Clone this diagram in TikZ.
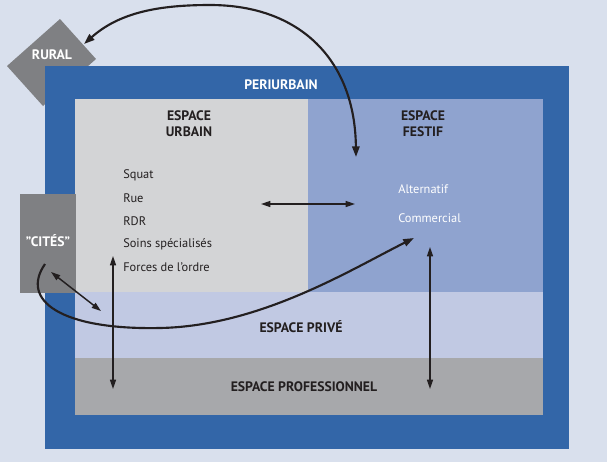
\documentclass[tikz,border=0pt]{standalone}
\usepackage{fontspec}
\setmainfont{PT Sans}
\usetikzlibrary{arrows.meta}
\definecolor{fond}{HTML}{D9E0ED}
\definecolor{bleu}{HTML}{3366A8}
\definecolor{urbain}{HTML}{D3D4D6}
\definecolor{festif}{HTML}{8FA3CF}
\definecolor{prive}{HTML}{C1C9E3}
\definecolor{pro}{HTML}{A7A8AB}
\definecolor{gris}{HTML}{7F8083}
\definecolor{encre}{HTML}{231F20}
\begin{document}
\begin{tikzpicture}[x=0.75pt,y=-0.75pt,
  titre/.style={font=\bfseries\fontsize{10.3}{12}\selectfont,text=encre,align=center,inner sep=0pt},
  blanc/.style={titre,text=white},
  liste/.style={font=\fontsize{9.3}{11}\selectfont,text=encre,anchor=west,inner sep=0pt},
  liste2/.style={liste,text=white},
  fl/.style={draw=encre,line width=1.1pt,{Triangle[length=7pt,width=4.5pt]}-{Triangle[length=7pt,width=4.5pt]}},
  courbe/.style={draw=encre,line width=1.6pt}]
\fill [fond] (0,0) rectangle (607,462);
\useasboundingbox (0,0) rectangle (607,462);
% zones
\fill [gris] (7,66)-- (60,19)-- (96,59)-- (43,106)-- cycle;
\fill [bleu] (45,66) rectangle (569,449);
\fill [urbain] (75,99) rectangle (308,292);
\fill [festif] (308,99) rectangle (543,292);
\fill [prive] (75,292) rectangle (543,358);
\fill [pro] (75,358) rectangle (543,415);
\fill [gris] (20,194) rectangle (76,293);
% textes
\node [blanc] (rural) at (52,55) {RURAL};
\node [blanc] (peri) at (281,85) {PERIURBAIN};
\node [titre] (urb) at (189,124) {ESPACE\\URBAIN};
\node [titre] (fest) at (423,124) {ESPACE\\FESTIF};
\node [blanc] (cites) at (48,241) {"CITÉS"};
\node [liste] (squat) at (123,175) {Squat};
\node [liste] (rue) at (123,198) {Rue};
\node [liste] (rdr) at (123,221) {RDR};
\node [liste] (soins) at (123,244) {Soins spécialisés};
\node [liste] (ordre) at (123,267) {Forces de l’ordre};
\node [liste2] (alt) at (398,189) {Alternatif};
\node [liste2] (com) at (398,218) {Commercial};
\node [titre] (prv) at (301,327) {ESPACE PRIVÉ};
\node [titre] (prof) at (304,387) {ESPACE PROFESSIONNEL};
% bouts des fleches
\coordinate (r1) at (84,44);
\coordinate (f1) at (356,157);
\coordinate (u1) at (261,204);
\coordinate (f2) at (355,204);
\coordinate (u2) at (113,256);
\coordinate (p1) at (113,389);
\coordinate (f3) at (430,247);
\coordinate (p2) at (430,389);
\coordinate (c1) at (51,272);
\coordinate (c2) at (101,311);
\coordinate (c3) at (45,264);
\coordinate (f4) at (414,238);
% fleches
\draw [fl] (u1) -- (f2);
\draw [fl] (u2) -- (p1);
\draw [fl] (f3) -- (p2);
\draw [fl] (c1) -- (c2);
\draw [courbe,-{Triangle[length=8pt,width=5.5pt]}] (c3) .. controls (20,300) and (60,330) .. (160,328) .. controls (260,326) and (350,270) .. (f4);
\draw [courbe,{Triangle[length=8pt,width=5.5pt]}-{Triangle[length=8pt,width=5.5pt]}] (r1) .. controls (120,12) and (160,5) .. (210,5) .. controls (300,5) and (355,60) .. (f1);
\end{tikzpicture}
\end{document}
